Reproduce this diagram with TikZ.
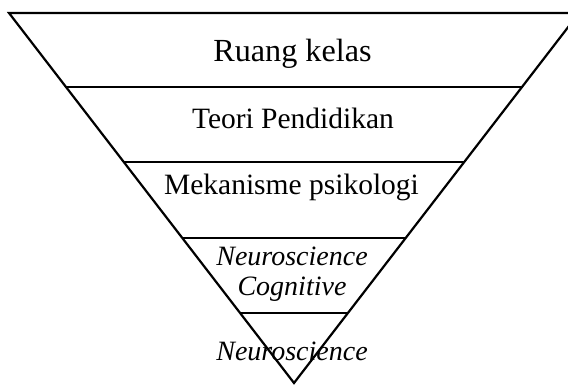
\documentclass[tikz,border=0pt]{standalone}
\usepackage{fontspec}
\setmainfont{Liberation Serif}
\usetikzlibrary{calc}

\tikzset{
  layer/.style={line width=2.2pt},
  label/.style={anchor=base,inner sep=0pt,font=\fontsize{29.5}{30}\selectfont},
  toplabel/.style={label,font=\fontsize{32.2}{34}\selectfont},
  itlabel/.style={label,align=center,font=\fontsize{28}{30}\selectfont\itshape}
}

\begin{document}
\begin{tikzpicture}[x=1pt,y=-1pt]
\useasboundingbox (0,0) rectangle (568,385);
% corners of the funnel
\coordinate (tl) at (9,13);
\coordinate (tr) at (579,13);
\coordinate (apex) at (294,383);
\draw[layer,line join=miter] (tl) -- (tr) -- (apex) -- cycle;
% dividing lines
\foreach \t/\n in {0.2/a,0.403/b,0.608/c,0.811/d}{
  \coordinate (l\n) at ($(tl)!\t!(apex)$);
  \coordinate (r\n) at ($(tr)!\t!(apex)$);
  \draw[layer] (l\n) -- (r\n);
}
% texts
\node[toplabel] (kelas) at (292.5,62) {Ruang kelas};
\node[label] (teori) at (293,129) {Teori Pendidikan};
\node[label] (psiko) at (291.5,195) {Mekanisme psikologi};
\node[itlabel] (kog) at (292,295.5) {Neuroscience\\Cognitive};
\node[itlabel] (neuro) at (292,360) {Neuroscience};
\end{tikzpicture}
\end{document}
